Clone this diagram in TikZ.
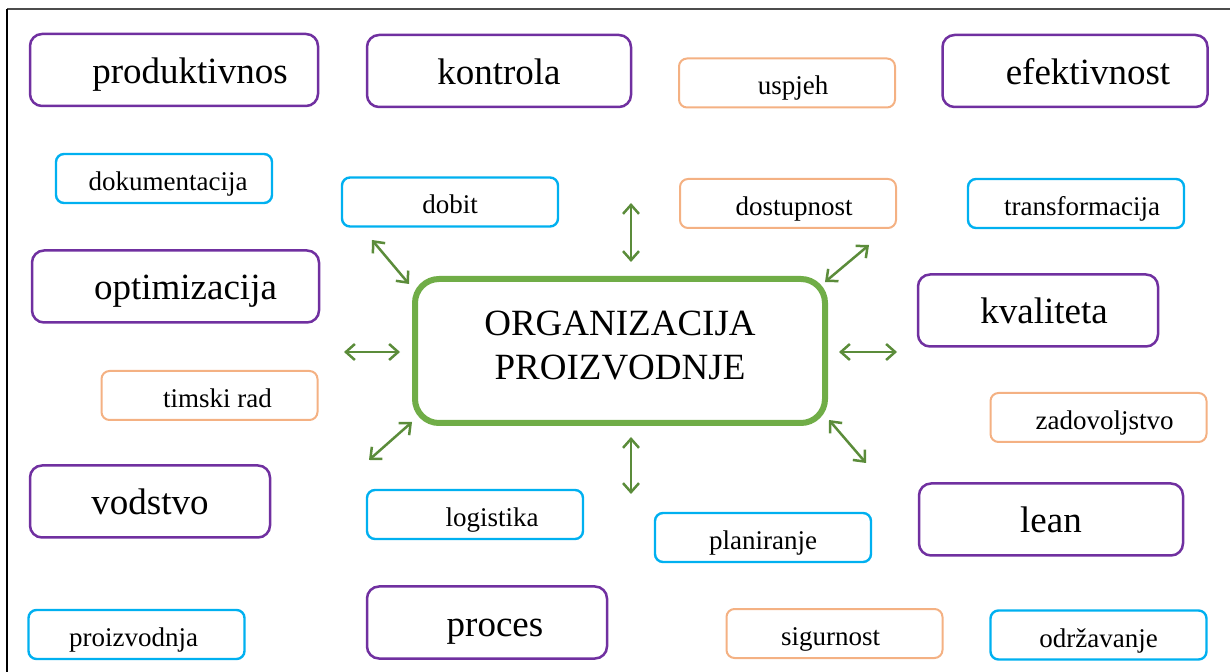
\documentclass[tikz,border=0pt]{standalone}
\usepackage{fontspec}
\setmainfont{Liberation Serif}
\usetikzlibrary{arrows.meta,positioning}
\definecolor{ljub}{HTML}{7030A0}
\definecolor{plava}{HTML}{00B0F0}
\definecolor{narancasta}{HTML}{F4B183}
\definecolor{zelena}{HTML}{70AD47}
\definecolor{strelica}{HTML}{5B8C3A}

\begin{document}
\begin{tikzpicture}[x=0.5pt, y=-0.5pt,
  pojam/.style={draw=ljub, line width=1.25pt, rounded corners=6pt,
    minimum height=36pt, inner sep=0pt, text height=13.5pt, text depth=0pt,
    font=\fontsize{18.5}{22}\selectfont},
  malibox/.style={line width=1.2pt, rounded corners=4pt, minimum width=108pt,
    minimum height=24.5pt, inner sep=0pt, text height=12pt, text depth=0pt,
    font=\fontsize{13.5}{16}\selectfont},
  plavibox/.style={malibox, draw=plava},
  narbox/.style={malibox, draw=narancasta, line width=1pt},
  sredina/.style={draw=zelena, line width=3pt, rounded corners=12pt,
    minimum width=205pt, minimum height=72pt, align=center,
    text depth=6pt, font=\fontsize{18.5}{22}\selectfont},
  veza/.style={{Straight Barb[length=4.5pt,width=8pt]}-{Straight Barb[length=4.5pt,width=8pt]},
    draw=strelica, line width=1.25pt},
]
\useasboundingbox (0,0) rectangle (1230,672);

% okvir
\draw[gray!60!black, line width=1pt] (7,9) -- (1230,9);
\draw[black, line width=1pt] (7,9) -- (7,672);

% sredisnji pojam
\node[sredina] (org) at (620,351) {ORGANIZACIJA\\PROIZVODNJE};

% veliki pojmovi
\node[pojam, minimum width=144pt] (prod) at (174,70) {\hspace*{16pt}produktivnos};
\node[pojam, minimum width=132pt] (kontr) at (499,71) {kontrola};
\node[pojam, minimum width=132.5pt] (efekt) at (1075,71) {\hspace*{13pt}efektivnost};
\node[pojam, minimum width=143.5pt] (optim) at (175.5,286.5) {\hspace*{10pt}optimizacija};
\node[pojam, minimum width=120pt] (kval) at (1038,310.5) {\hspace*{6pt}kvaliteta};
\node[pojam, minimum width=120pt] (vod) at (150,501.5) {vodstvo};
\node[pojam, minimum width=132pt] (lean) at (1051,519.5) {lean};
\node[pojam, minimum width=120pt] (proc) at (487,622.5) {\hspace*{8pt}proces};

% mali pojmovi
\node[plavibox] (dok) at (164,178.5) {\hspace*{4pt}dokumentacija};
\node[plavibox] (dob) at (450,202) {dobit};
\node[narbox] (usp) at (787,83) {\hspace*{6pt}uspjeh};
\node[narbox] (dost) at (788,203.5) {\hspace*{6pt}dostupnost};
\node[plavibox] (transf) at (1076,203.5) {\hspace*{6pt}transformacija};
\node[narbox] (tim) at (209.5,395.5) {\hspace*{8pt}timski rad};
\node[narbox] (zadov) at (1098.5,417.5) {\hspace*{6pt}zadovoljstvo};
\node[plavibox] (log) at (475,514.5) {\hspace*{17pt}logistika};
\node[plavibox] (plan) at (763,537.5) {planiranje};
\node[plavibox] (proizv) at (136.5,634.5) {proizvodnja\hspace*{3pt}};
\node[narbox] (sig) at (834.5,633.5) {sigurnost\hspace*{4pt}};
\node[plavibox] (odrz) at (1098.5,635) {održavanje};

% strelice oko sredine
\coordinate (gore1) at (631,203);    \coordinate (gore2) at (631,262);
\coordinate (dolje1) at (631,437);   \coordinate (dolje2) at (631,494);
\coordinate (lijevo1) at (344,352);  \coordinate (lijevo2) at (400,352);
\coordinate (desno1) at (839,352);   \coordinate (desno2) at (897,352);
\coordinate (gl1) at (372,240);      \coordinate (gl2) at (409,284);
\coordinate (gd1) at (869,245);      \coordinate (gd2) at (825,282);
\coordinate (dl1) at (412,422);      \coordinate (dl2) at (369,460);
\coordinate (dd1) at (829,420);      \coordinate (dd2) at (866,463);

\draw[veza] (gore1) -- (gore2);
\draw[veza] (dolje1) -- (dolje2);
\draw[veza] (lijevo1) -- (lijevo2);
\draw[veza] (desno1) -- (desno2);
\draw[veza] (gl1) -- (gl2);
\draw[veza] (gd1) -- (gd2);
\draw[veza] (dl1) -- (dl2);
\draw[veza] (dd1) -- (dd2);

\end{tikzpicture}
\end{document}
